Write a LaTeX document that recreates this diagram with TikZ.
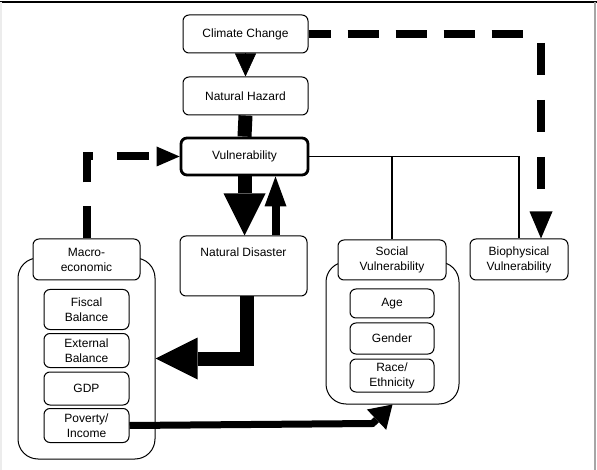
\documentclass[tikz,border=0pt]{standalone}
\usepackage{fontspec}
\setmainfont{Liberation Sans}
\usepackage{tikz}
\usetikzlibrary{arrows.meta, positioning, calc}
\tikzset{
  box/.style={rectangle, draw=black, fill=white, rounded corners=6pt,
    line width=1pt, align=center, inner sep=0pt,
    font=\fontsize{12}{15}\selectfont},
  outerbox/.style={rectangle, draw=black, rounded corners=20pt,
    line width=1pt, inner sep=0pt},
  bar/.style={line width=14pt, color=black},
  bigtip/.style={-{Triangle[length=#1,width=#1,line width=0pt]}},
  dashline/.style={line width=8pt, dash pattern=on 31pt off 17pt},
  dasharrow/.style={line width=8pt, dash pattern=on 32pt off 25pt,
    -{Triangle[length=27pt,width=23pt,line width=0pt]}},
  line/.style={line width=1.6pt, color=black}
}
\begin{document}
\begin{tikzpicture}[x=1pt, y=-1pt]
  \useasboundingbox (0,0) rectangle (597,470);
  % frame
  \draw[line width=1.5pt] (0,2) -- (597,2);
  \draw[gray!15, line width=1.5pt] (1,2) -- (1,470);
  \draw[gray!70, line width=2pt] (595,2) -- (595,470);

  % main chain
  \node[box, minimum width=125pt, minimum height=38pt] (cc) at (245.5,34) {Climate Change};
  \node[box, minimum width=125pt, minimum height=38pt] (nh) at (245.5,96) {Natural Hazard};
  \node[box, line width=2.8pt, minimum width=127pt, minimum height=37pt] (vul) at (244.5,156.5) {Vulnerability};
  \node[box, minimum width=127pt, minimum height=60pt,
    label={[font=\fontsize{12}{15}\selectfont, anchor=north, yshift=-9pt]north:Natural Disaster}] (nd) at (243.5,266) {};

  % macro-economic group
  \node[outerbox, minimum width=137pt, minimum height=201pt] (mo) at (86.5,358.5) {};
  \node[box, minimum width=107pt, minimum height=41pt] (mh) at (86.5,259.5) {Macro-\\economic};
  \node[box, minimum width=85pt, minimum height=40pt] (fb) at (86.5,309.5) {Fiscal\\Balance};
  \node[box, minimum width=85pt, minimum height=34pt] (eb) at (86.5,350.5) {External\\Balance};
  \node[box, minimum width=85pt, minimum height=33pt] (gdp) at (86.5,388.5) {GDP};
  \node[box, minimum width=85pt, minimum height=34pt] (pi) at (86.5,425.5) {Poverty/\\Income};

  % social vulnerability group
  \node[outerbox, minimum width=133pt, minimum height=142pt] (so) at (392.5,333) {};
  \node[box, minimum width=108pt, minimum height=40pt] (sh) at (392,260) {Social\\Vulnerability};
  \node[box, minimum width=84pt, minimum height=29pt] (age) at (392,303.5) {Age};
  \node[box, minimum width=84pt, minimum height=31pt] (gen) at (392,338.5) {Gender};
  \node[box, minimum width=84pt, minimum height=33pt] (race) at (392,375.5) {Race/\\Ethnicity};

  \node[box, minimum width=98pt, minimum height=41pt] (bv) at (519,259.5) {Biophysical\\Vulnerability};

  % connectors
  \draw[line width=0.6pt, -{Triangle[length=23pt,width=21pt]}] (cc) -- (nh);
  \draw[bar] (nh.south) -- (vul.north);
  \draw[bar, bigtip=42pt] (vul.south) -- (vul.south |- nd.north);
  \draw[line width=8pt, -{Triangle[length=30pt,width=22pt,line width=0pt]}]
    ([xshift=32pt]nd.north) -- ([xshift=32pt]nd.north |- vul.south);
  \draw[bar, line join=miter, bigtip=42pt] ([xshift=3pt]nd.south) |- (mo.east);
  \draw[line width=7pt, line join=miter, -{Triangle[length=22pt,width=28pt,line width=0pt]}]
    (pi.east) -- ([xshift=-20pt,yshift=-19pt]so.south) -- (so.south);
  \draw[line] (vul.east) -| (bv.north);
  \draw[line] (sh.north) -- (sh.north |- vul.east);

  % dashed feedback paths
  \coordinate (turn) at ([xshift=22pt]bv.north |- cc.east);
  \draw[dashline, dash phase=9pt] (cc.east) -- ([xshift=-5pt]turn);
  \draw[dasharrow, dash phase=48pt] (turn) -- ([xshift=22pt]bv.north);
  \draw[dasharrow, dash pattern=on 32pt off 24pt, -{Triangle[length=23pt,width=20pt,line width=0pt]}]
    (mh.north) |- (vul.west);
\end{tikzpicture}
\end{document}
